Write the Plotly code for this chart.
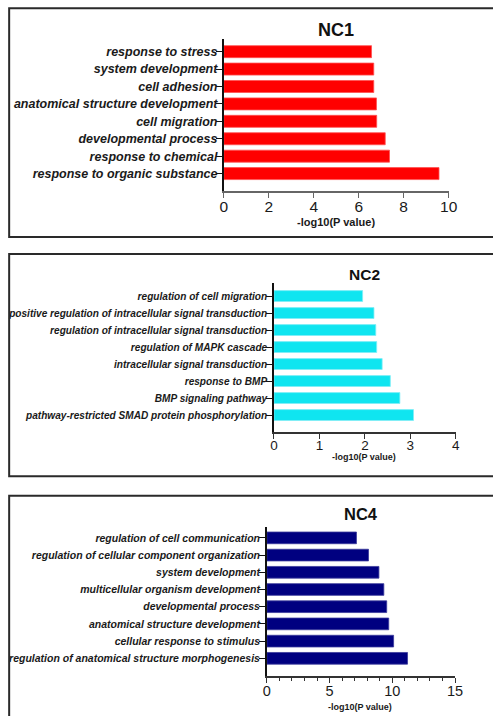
import plotly.graph_objects as go

W, H = 493, 716

# ---------------- data ----------------
nc1_terms = ["response to stress", "system development", "cell adhesion",
             "anatomical structure development", "cell migration",
             "developmental process", "response to chemical",
             "response to organic substance"]
nc1_values = [6.57, 6.67, 6.67, 6.79, 6.80, 7.18, 7.37, 9.57]

nc2_terms = ["regulation of cell migration",
             "positive regulation of intracellular signal transduction",
             "regulation of intracellular signal transduction",
             "regulation of MAPK cascade",
             "intracellular signal transduction",
             "response to BMP",
             "BMP signaling pathway",
             "pathway-restricted SMAD protein phosphorylation"]
nc2_values = [1.95, 2.20, 2.24, 2.26, 2.38, 2.56, 2.77, 3.07]

nc4_terms = ["regulation of cell communication",
             "regulation of cellular component organization",
             "system development",
             "multicellular organism development",
             "developmental process",
             "anatomical structure development",
             "cellular response to stimulus",
             "regulation of anatomical structure morphogenesis"]
nc4_values = [7.14, 8.10, 8.93, 9.32, 9.55, 9.71, 10.10, 11.21]

x_title = "-log10(P value)"

FONT = "Liberation Sans, Arial, Helvetica, sans-serif"
TXT = "#1a1a1a"

def px_x(p):
    return p / W

def px_y(p):
    return 1 - p / H

panels = [
    dict(name="NC1", terms=nc1_terms, vals=nc1_values, color="#ff0000", line="#ff5050",
         xdom=(225.7, 456.7), ydom=(39.3, 191.0), xr=[0, 10], dtick=2, yr=[-1.0, 7.71],
         bw=0.69, lab=12.5, tick=15.5, minor=False, tsize=18, tx=340.7, ty=29.5,
         atsize=11, ax=340.8, ay=221.7, box=(8.3, 237.0), xline="#666666",
         ystand=-4, xstand=-4),
    dict(name="NC2", terms=nc2_terms, vals=nc2_values, color="#0fe5f0", line="#80eef6",
         xdom=(277.3, 464.0), ydom=(283.3, 431.7), xr=[0, 4], dtick=1, yr=[-0.98, 7.75],
         bw=0.64, lab=10.1, tick=13.5, minor=False, tsize=15.5, tx=370.7, ty=274.3,
         atsize=9, ax=370.0, ay=456.5, box=(254.0, 476.3), xline="#333333",
         ystand=-3, xstand=-5),
    dict(name="NC4", terms=nc4_terms, vals=nc4_values, color="#000080", line="#3a3a9a",
         xdom=(270.0, 463.3), ydom=(526.7, 675.7), xr=[0, 15], dtick=5, yr=[-1.01, 7.65],
         bw=0.68, lab=10.5, tick=14.5, minor=True, tsize=16.5, tx=366.7, ty=514.3,
         atsize=9, ax=366.0, ay=706.7, box=(495.7, 730.0), xline="#333333",
         ystand=-3, xstand=-4),
]

fig = go.Figure()
annotations = []
shapes = []
layout = {}

for i, p in enumerate(panels, start=1):
    xa = "x" if i == 1 else f"x{i}"
    ya = "y" if i == 1 else f"y{i}"
    fig.add_trace(go.Bar(
        x=p["vals"], y=p["terms"], orientation="h",
        marker=dict(color=p["color"], line=dict(color=p["line"], width=0.8)),
        width=p["bw"], xaxis=xa, yaxis=ya, showlegend=False,
    ))
    xkey = "xaxis" if i == 1 else f"xaxis{i}"
    ykey = "yaxis" if i == 1 else f"yaxis{i}"
    xaxis = dict(
        domain=[px_x(p["xdom"][0]), px_x(p["xdom"][1])],
        range=p["xr"], dtick=p["dtick"], tick0=0, anchor=ya,
        showgrid=False, zeroline=False,
        showline=True, linecolor=p["xline"], linewidth=1.6,
        ticks="outside", ticklen=5, tickwidth=1.4, tickcolor=p["xline"],
        tickfont=dict(family=FONT, size=p["tick"], color=TXT),
        ticklabelstandoff=p["xstand"],
        fixedrange=True,
    )
    if p["minor"]:
        xaxis["minor"] = dict(dtick=1, ticks="outside", ticklen=3, tickwidth=1,
                              tickcolor="#333333", showgrid=False)
    layout[xkey] = xaxis
    layout[ykey] = dict(
        domain=[px_y(p["ydom"][1]), px_y(p["ydom"][0])],
        type="category", categoryorder="array",
        categoryarray=list(reversed(p["terms"])),
        range=p["yr"], anchor=xa,
        showgrid=False, zeroline=False,
        showline=True, linecolor="#111111", linewidth=1.6,
        ticks="outside", ticklen=6, tickwidth=1.4, tickcolor="#111111",
        tickfont=dict(family=FONT, size=p["lab"], color=TXT, weight="bold", style="italic"),
        ticklabelstandoff=p["ystand"],
        fixedrange=True,
    )
    annotations.append(dict(
        text=f"<b>{p['name']}</b>", x=px_x(p["tx"]), y=px_y(p["ty"]),
        xref="paper", yref="paper", showarrow=False, xanchor="center", yanchor="middle",
        font=dict(family=FONT, size=p["tsize"], color="#111111"),
    ))
    annotations.append(dict(
        text=f"<b>{x_title}</b>", x=px_x(p["ax"]), y=px_y(p["ay"]),
        xref="paper", yref="paper", showarrow=False, xanchor="center", yanchor="middle",
        font=dict(family=FONT, size=p["atsize"], color=TXT),
    ))
    shapes.append(dict(
        type="rect", xref="paper", yref="paper",
        x0=px_x(5.3), x1=px_x(W + 20), y0=px_y(p["box"][1]), y1=px_y(p["box"][0]),
        line=dict(color="#2a2a2a", width=2), fillcolor="rgba(0,0,0,0)",
    ))

fig.update_layout(
    width=W, height=H, margin=dict(l=0, r=0, t=0, b=0),
    paper_bgcolor="white", plot_bgcolor="white",
    annotations=annotations, shapes=shapes, bargap=0.3,
    **layout,
)

fig.write_html(
    "out.html",
    config=dict(displayModeBar=False),
    post_script="document.body.style.margin='0px';document.body.style.overflow='hidden';",
)
